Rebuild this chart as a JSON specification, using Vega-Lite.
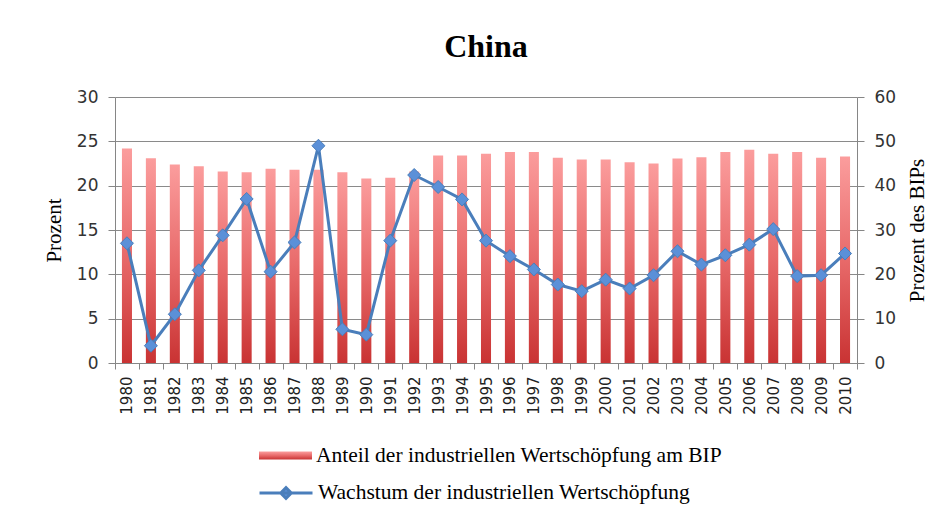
{
  "$schema": "https://vega.github.io/schema/vega-lite/v6.json",
  "width": 742,
  "height": 266,
  "autosize": {"type": "none"},
  "padding": {"left": 115, "top": 97, "right": 93, "bottom": 156},
  "background": "white",
  "title": {
    "text": "China",
    "font": "Liberation Serif",
    "fontSize": 32,
    "fontWeight": "bold",
    "color": "black",
    "anchor": "middle",
    "offset": 24
  },
  "data": {
    "values": [
      {"Jahr": "1980", "Anteil": 48.4, "Wachstum": 13.5},
      {"Jahr": "1981", "Anteil": 46.2, "Wachstum": 1.95},
      {"Jahr": "1982", "Anteil": 44.8, "Wachstum": 5.5},
      {"Jahr": "1983", "Anteil": 44.4, "Wachstum": 10.45},
      {"Jahr": "1984", "Anteil": 43.2, "Wachstum": 14.4},
      {"Jahr": "1985", "Anteil": 43.0, "Wachstum": 18.5},
      {"Jahr": "1986", "Anteil": 43.8, "Wachstum": 10.3},
      {"Jahr": "1987", "Anteil": 43.6, "Wachstum": 13.6},
      {"Jahr": "1988", "Anteil": 43.6, "Wachstum": 24.5},
      {"Jahr": "1989", "Anteil": 43.0, "Wachstum": 3.8},
      {"Jahr": "1990", "Anteil": 41.6, "Wachstum": 3.2},
      {"Jahr": "1991", "Anteil": 41.8, "Wachstum": 13.8},
      {"Jahr": "1992", "Anteil": 43.2, "Wachstum": 21.2},
      {"Jahr": "1993", "Anteil": 46.8, "Wachstum": 19.85},
      {"Jahr": "1994", "Anteil": 46.8, "Wachstum": 18.45},
      {"Jahr": "1995", "Anteil": 47.2, "Wachstum": 13.8},
      {"Jahr": "1996", "Anteil": 47.6, "Wachstum": 12.05},
      {"Jahr": "1997", "Anteil": 47.6, "Wachstum": 10.55},
      {"Jahr": "1998", "Anteil": 46.3, "Wachstum": 8.85},
      {"Jahr": "1999", "Anteil": 45.9, "Wachstum": 8.1},
      {"Jahr": "2000", "Anteil": 45.9, "Wachstum": 9.4},
      {"Jahr": "2001", "Anteil": 45.3, "Wachstum": 8.4},
      {"Jahr": "2002", "Anteil": 45.0, "Wachstum": 9.9},
      {"Jahr": "2003", "Anteil": 46.1, "Wachstum": 12.6},
      {"Jahr": "2004", "Anteil": 46.4, "Wachstum": 11.1},
      {"Jahr": "2005", "Anteil": 47.6, "Wachstum": 12.15},
      {"Jahr": "2006", "Anteil": 48.1, "Wachstum": 13.35},
      {"Jahr": "2007", "Anteil": 47.2, "Wachstum": 15.1},
      {"Jahr": "2008", "Anteil": 47.6, "Wachstum": 9.8},
      {"Jahr": "2009", "Anteil": 46.3, "Wachstum": 9.9},
      {"Jahr": "2010", "Anteil": 46.6, "Wachstum": 12.35}
    ]
  },
  "encoding": {
    "x": {
      "field": "Jahr",
      "type": "ordinal",
      "scale": {"paddingInner": 0, "paddingOuter": 0},
      "axis": {
        "title": null,
        "labelAngle": -90,
        "labelFont": "DejaVu Sans",
        "labelFontSize": 15,
        "labelColor": "#222222",
        "labelPadding": 7,
        "tickBand": "extent",
        "tickSize": 6,
        "tickColor": "#868686",
        "domainColor": "#868686",
        "grid": false
      }
    }
  },
  "layer": [
    {
      "mark": {
        "type": "bar",
        "width": {"band": 0.42},
        "fill": {
          "gradient": "linear",
          "x1": 0, "y1": 0, "x2": 0, "y2": 1,
          "stops": [
            {"offset": 0, "color": "#fb9d9d"},
            {"offset": 0.5, "color": "#e86a6a"},
            {"offset": 1, "color": "#c93333"}
          ]
        }
      },
      "encoding": {
        "y": {
          "field": "Anteil",
          "type": "quantitative",
          "scale": {"domain": [0, 60]},
          "axis": {
            "orient": "right",
            "title": "Prozent des BIPs",
            "titleAngle": 270,
            "values": [0, 10, 20, 30, 40, 50, 60],
            "grid": false,
            "tickSize": 7,
            "labelPadding": 10,
            "titlePadding": 32
          }
        },
        "opacity": {
          "datum": "Anteil der industriellen Wertschöpfung am BIP",
          "type": "nominal",
          "scale": {"type": "ordinal", "range": [1]},
          "legend": {
            "title": null,
            "orient": "none",
            "legendX": 144,
            "legendY": 332,
            "symbolType": "M-1,-0.15H1V0.15H-1Z",
            "symbolSize": 2809,
            "symbolStrokeWidth": 0,
            "symbolFillColor": "#e46666",
            "labelFont": "Liberation Serif",
            "labelFontSize": 21.5,
            "labelColor": "black",
            "labelOffset": 4,
            "labelLimit": 600
          }
        }
      }
    },
    {
      "mark": {
        "type": "line",
        "strokeWidth": 3,
        "point": {
          "shape": "diamond",
          "size": 170,
          "filled": true,
          "fill": "#5b90d8",
          "stroke": "#3a6ab0",
          "strokeWidth": 1
        }
      },
      "encoding": {
        "y": {
          "field": "Wachstum",
          "type": "quantitative",
          "scale": {"domain": [0, 30]},
          "axis": {
            "orient": "left",
            "title": "Prozent",
            "values": [0, 5, 10, 15, 20, 25, 30],
            "grid": true,
            "tickSize": 7,
            "labelPadding": 10,
            "titlePadding": 12
          }
        },
        "stroke": {
          "datum": "Wachstum der industriellen Wertschöpfung",
          "type": "nominal",
          "scale": {"range": ["#4a7ebb"]},
          "legend": {
            "title": null,
            "orient": "none",
            "legendX": 143,
            "legendY": 368,
            "symbolType": "M-1,0H1M-0.2,0L0,-0.2L0.2,0L0,0.2Z",
            "symbolSize": 2809,
            "symbolStrokeWidth": 3,
            "symbolFillColor": "#5b90d8",
            "labelFont": "Liberation Serif",
            "labelFontSize": 21.5,
            "labelColor": "black",
            "labelOffset": 4,
            "labelLimit": 600
          }
        }
      }
    }
  ],
  "resolve": {"scale": {"y": "independent"}},
  "config": {
    "view": {"stroke": null},
    "axis": {
      "labelFont": "DejaVu Sans",
      "labelFontSize": 17,
      "labelColor": "#333333",
      "titleFont": "Liberation Serif",
      "titleFontSize": 21,
      "titleFontWeight": "normal",
      "titleColor": "black",
      "domainColor": "#868686",
      "tickColor": "#868686",
      "gridColor": "#8a8a8a",
      "gridOpacity": 1
    }
  }
}
